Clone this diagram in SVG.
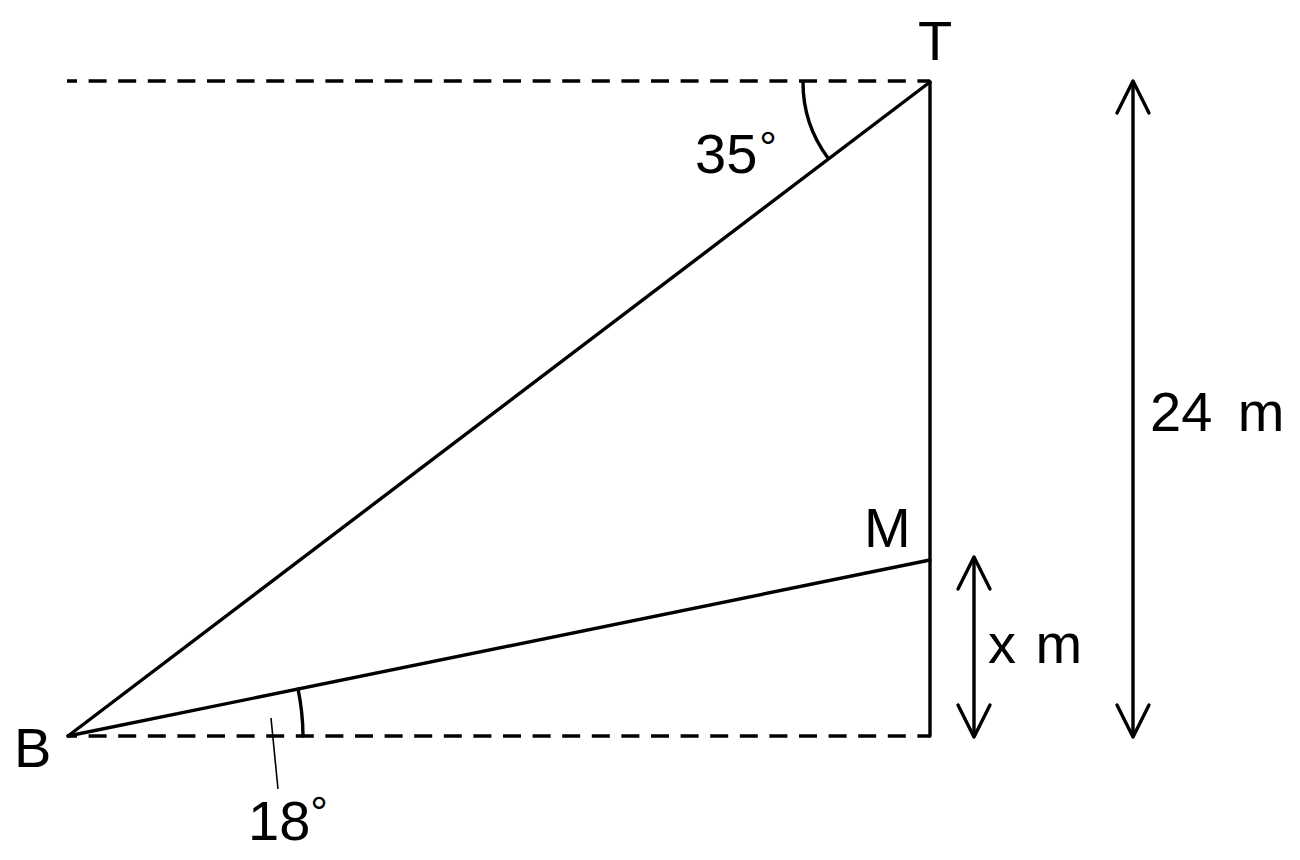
<svg xmlns="http://www.w3.org/2000/svg" width="1300" height="860" viewBox="0 0 1300 860">
<style>
.ln{stroke:#000;stroke-width:3.4;fill:none;stroke-linecap:round;stroke-linejoin:round}
.dash{stroke:#000;stroke-width:3.4;fill:none;stroke-dasharray:18 11.6;stroke-dashoffset:8}
.thin{stroke:#000;stroke-width:1.6;fill:none}
.lbl{font-family:"Liberation Sans",Arial,sans-serif;font-size:56px;fill:#000}
.deg{font-size:44px}
</style>
<rect width="1300" height="860" fill="#fff"/>
<g id="connectors">
<line class="dash" x1="67" y1="81" x2="930" y2="81"/>
<line class="dash" x1="67" y1="736" x2="930" y2="736"/>
<line class="ln" x1="930" y1="82" x2="930" y2="736"/>
<line class="ln" x1="68" y1="736" x2="930" y2="82"/>
<line class="ln" x1="68" y1="736" x2="930" y2="560"/>
<path class="ln" d="M803,82 A127,127 0 0 0 828,158"/>
<path class="ln" d="M303,736 A235,235 0 0 0 298,689"/>
<line class="thin" x1="271" y1="718" x2="278" y2="789"/>
<g id="arrow-x">
<line class="ln" x1="974" y1="558" x2="974" y2="736"/>
<polyline class="ln" points="958,589 974,557 990,589"/>
<polyline class="ln" points="958,705 974,737 990,705"/>
</g>
<g id="arrow-24">
<line class="ln" x1="1133" y1="82" x2="1133" y2="736"/>
<polyline class="ln" points="1117,113 1133,81 1149,113"/>
<polyline class="ln" points="1117,705 1133,737 1149,705"/>
</g>
</g>
<g id="T"><text class="lbl" x="935" y="60" text-anchor="middle">T</text></g>
<g id="B"><text class="lbl" x="14" y="767">B</text></g>
<g id="M"><text class="lbl" x="864" y="547">M</text></g>
<g id="angle35"><text class="lbl" x="695" y="173">35<tspan class="deg" dx="2" dy="-10">°</tspan></text></g>
<g id="angle18"><text class="lbl" x="248" y="840">18<tspan class="deg" dx="0" dy="-12">°</tspan></text></g>
<g id="xm"><text class="lbl" x="988" y="663" word-spacing="4">x m</text></g>
<g id="h24"><text class="lbl" x="1150" y="431" word-spacing="10">24 m</text></g>
</svg>
